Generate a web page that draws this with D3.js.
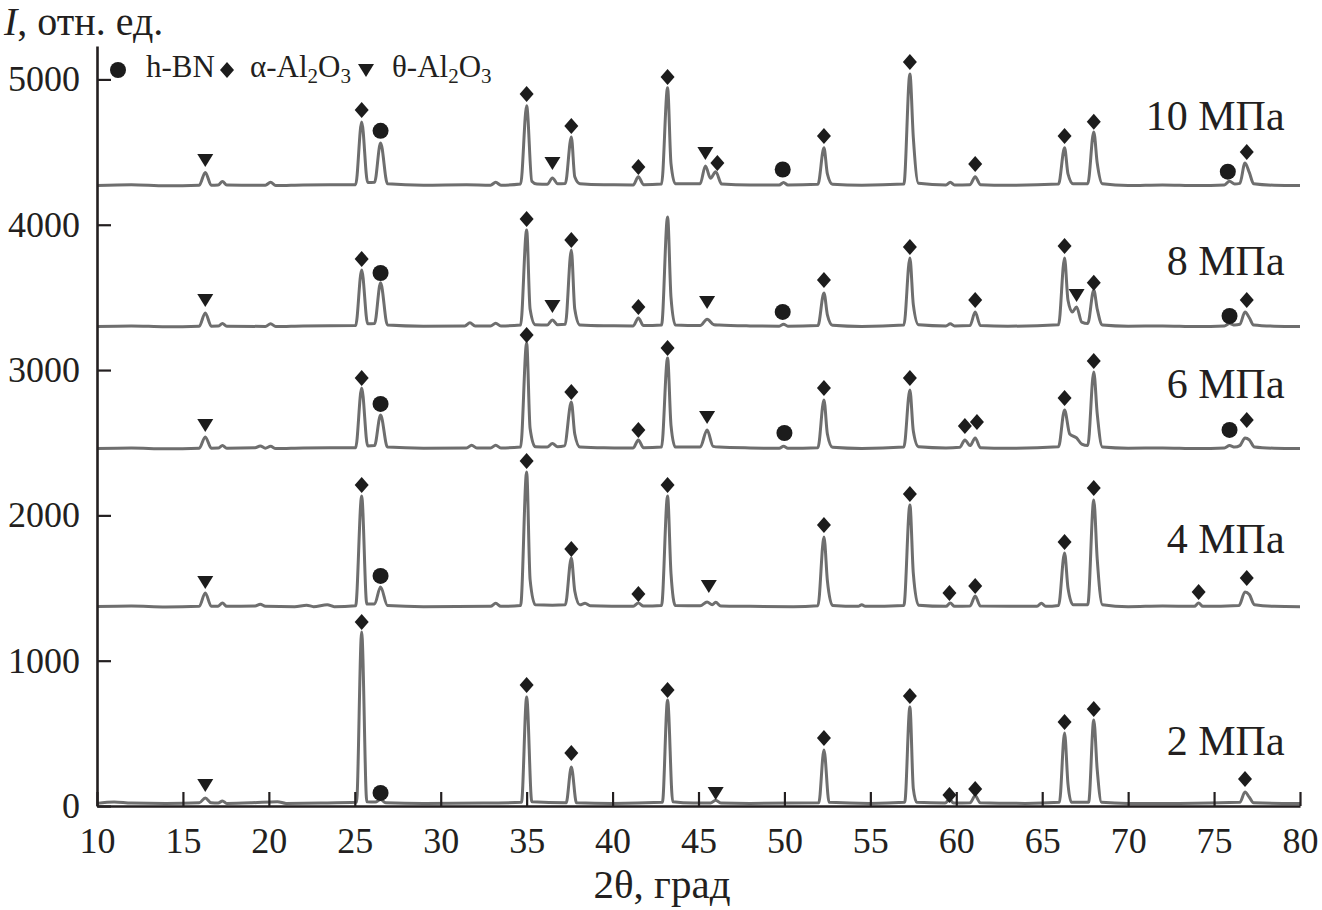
<!DOCTYPE html>
<html><head><meta charset="utf-8">
<script src="https://cdn.jsdelivr.net/npm/d3@7"></script>
<style>
body{margin:0;background:#fff}
svg{display:block}
text{font-family:"Liberation Serif","Times New Roman",serif;fill:#231f20}
</style></head>
<body><svg id="c" width="1322" height="910"></svg>
<script>
// ---------- DATA ----------
const xTicks = [10,15,20,25,30,35,40,45,50,55,60,65,70,75,80];
const yTicks = [0,1000,2000,3000,4000,5000];
const seriesNames = ["2 МПа","4 МПа","6 МПа","8 МПа","10 МПа"];

// [2θ, I] points
const s2 = [[10,18],[11,28],[12,20],[14,18],[15.95,22],[16.3,55],[16.65,22],[17.05,20],[17.3,35],[17.55,18],[19,22],[20.5,30],[21,18],[23,20],[25.1,25],[25.4,1197],[25.7,30],[26.2,28],[26.5,45],[26.8,22],[29,18],[32.5,20],[34.7,25],[35.0,750],[35.3,30],[37.3,22],[37.6,268],[37.9,22],[40,18],[42.9,25],[43.2,730],[43.5,30],[44.7,20],[45.7,20],[46.0,40],[46.3,20],[48,18],[52.0,22],[52.3,385],[52.6,25],[55,18],[57.0,25],[57.3,681],[57.5,120],[57.7,25],[59.35,20],[59.6,45],[59.85,20],[60.8,22],[61.1,70],[61.4,22],[64,18],[66.0,25],[66.3,502],[66.5,150],[66.7,25],[67.7,25],[68.0,592],[68.2,250],[68.45,25],[70,18],[73,18],[76.5,25],[76.8,96],[77.05,60],[77.3,22],[79,18],[80,18]];

const s4 = [[10,1372],[12,1376],[14,1370],[15.95,1374],[16.3,1466],[16.65,1374],[17.05,1375],[17.3,1397],[17.55,1374],[19.2,1376],[19.5,1388],[19.8,1374],[21.5,1372],[22.2,1382],[22.6,1372],[23.4,1385],[23.8,1372],[25.05,1378],[25.4,2133],[25.7,1390],[26.15,1390],[26.5,1507],[26.9,1380],[29,1372],[32.9,1374],[33.2,1395],[33.5,1374],[34.65,1380],[35.0,2299],[35.2,1560],[35.5,1385],[36.5,1382],[37.25,1385],[37.6,1707],[37.8,1480],[38.1,1385],[38.4,1395],[38.7,1378],[41.2,1374],[41.5,1397],[41.8,1376],[42.85,1380],[43.2,2133],[43.4,1600],[43.65,1380],[45.1,1378],[45.5,1404],[45.8,1385],[46.0,1402],[46.3,1376],[48,1374],[50.5,1372],[51.95,1378],[52.3,1851],[52.5,1550],[52.8,1380],[54.3,1374],[54.5,1385],[54.7,1374],[56.95,1380],[57.3,2072],[57.5,1600],[57.8,1382],[59.4,1374],[59.65,1397],[59.9,1374],[60.8,1376],[61.1,1445],[61.4,1376],[64.7,1374],[64.95,1395],[65.2,1374],[65.95,1380],[66.3,1741],[66.5,1500],[66.8,1385],[67.65,1385],[68.0,2106],[68.2,1700],[68.5,1385],[70,1372],[72,1376],[73.85,1374],[74.1,1397],[74.35,1374],[76.45,1380],[76.8,1473],[77.05,1455],[77.35,1385],[78.5,1374],[80,1372]];

const s6 = [[10,2460],[12,2464],[14,2458],[15.95,2462],[16.3,2540],[16.65,2462],[17.05,2463],[17.3,2480],[17.55,2462],[19.2,2465],[19.5,2478],[19.8,2462],[20.1,2475],[20.4,2460],[22,2464],[25.05,2466],[25.4,2877],[25.75,2478],[26.15,2480],[26.5,2691],[26.9,2470],[29,2462],[31.5,2464],[31.8,2482],[32.1,2464],[32.9,2464],[33.2,2482],[33.5,2464],[34.65,2470],[35.0,3187],[35.2,2600],[35.5,2472],[36.2,2470],[36.5,2495],[36.8,2472],[37.2,2478],[37.6,2780],[37.8,2560],[38.1,2470],[39.5,2465],[41.2,2464],[41.5,2519],[41.8,2466],[42.85,2470],[43.2,3083],[43.4,2620],[43.65,2470],[45.1,2470],[45.5,2588],[45.85,2475],[46.2,2470],[48,2464],[49.7,2462],[49.95,2476],[50.2,2462],[51.95,2466],[52.3,2794],[52.5,2560],[52.8,2468],[54.5,2460],[56.95,2470],[57.3,2863],[57.5,2580],[57.8,2472],[59.4,2464],[60.2,2468],[60.5,2519],[60.8,2480],[61.1,2533],[61.4,2466],[63,2462],[65.95,2472],[66.3,2725],[66.6,2560],[67.0,2533],[67.3,2490],[67.65,2480],[68.0,2987],[68.2,2700],[68.5,2470],[70,2462],[72,2464],[74,2460],[75.6,2464],[75.9,2480],[76.2,2470],[76.5,2480],[76.8,2533],[77.05,2520],[77.35,2470],[78.5,2462],[80,2460]];

const s8 = [[10,3300],[12,3304],[14,3298],[15.95,3302],[16.3,3393],[16.65,3302],[17.05,3303],[17.3,3320],[17.55,3302],[19.8,3300],[20.1,3318],[20.4,3300],[22,3304],[25.05,3306],[25.4,3689],[25.75,3318],[26.15,3320],[26.5,3600],[26.9,3310],[29,3302],[31.4,3304],[31.7,3325],[32,3304],[32.9,3304],[33.2,3322],[33.5,3304],[34.65,3310],[35.0,3964],[35.2,3420],[35.5,3312],[36.2,3310],[36.5,3345],[36.8,3312],[37.25,3315],[37.6,3827],[37.8,3420],[38.1,3310],[39.5,3305],[41.2,3304],[41.5,3358],[41.8,3306],[42.85,3310],[43.2,4054],[43.4,3500],[43.65,3310],[45.1,3306],[45.5,3350],[45.9,3312],[46.2,3310],[48,3304],[49.7,3302],[49.95,3316],[50.2,3302],[51.95,3306],[52.3,3531],[52.5,3380],[52.8,3308],[54.5,3300],[56.95,3310],[57.3,3771],[57.5,3450],[57.8,3312],[59.4,3304],[59.65,3318],[59.9,3304],[60.8,3306],[61.1,3400],[61.4,3306],[63,3302],[65.95,3312],[66.3,3771],[66.5,3480],[66.75,3400],[67.0,3434],[67.3,3330],[67.65,3320],[68.0,3551],[68.2,3420],[68.5,3310],[70,3302],[72,3304],[74,3300],[75.6,3304],[75.9,3320],[76.2,3310],[76.5,3315],[76.8,3400],[77.05,3360],[77.3,3310],[78.5,3302],[80,3300]];

const s10 = [[10,4270],[12,4275],[14,4268],[15.95,4272],[16.3,4360],[16.65,4272],[17.05,4274],[17.3,4298],[17.55,4273],[19.8,4272],[20.1,4292],[20.4,4270],[22,4274],[25.05,4276],[25.4,4707],[25.75,4290],[26.15,4292],[26.5,4563],[26.9,4282],[29,4272],[31.5,4275],[32.9,4272],[33.2,4292],[33.5,4272],[34.65,4280],[35.0,4818],[35.3,4300],[35.6,4280],[36.2,4278],[36.5,4322],[36.8,4282],[37.25,4284],[37.6,4604],[37.8,4330],[38.1,4282],[39.5,4275],[41.2,4274],[41.5,4330],[41.8,4276],[42.85,4280],[43.2,4942],[43.4,4420],[43.65,4282],[45.1,4282],[45.4,4405],[45.7,4320],[46.0,4364],[46.35,4280],[48,4274],[49.7,4274],[49.95,4290],[50.2,4274],[51.95,4278],[52.3,4529],[52.5,4350],[52.8,4278],[54.5,4272],[56.95,4280],[57.3,5038],[57.5,4600],[57.8,4285],[59.4,4274],[59.65,4292],[59.9,4274],[60.8,4276],[61.1,4330],[61.4,4276],[63,4272],[65.95,4280],[66.3,4529],[66.5,4350],[66.8,4282],[67.65,4282],[68.0,4639],[68.2,4425],[68.5,4282],[70,4270],[72,4274],[74,4270],[75.6,4274],[75.9,4300],[76.2,4280],[76.5,4285],[76.8,4425],[77.05,4360],[77.3,4282],[78.5,4272],[80,4270]];

// phase markers: [2θ, I, phase]  c = h-BN, d = α-Al2O3, t = θ-Al2O3
const m2 = [[16.3,145,"t"],[25.4,1266,"d"],[26.5,90,"c"],[35.0,833,"d"],[37.6,365,"d"],[43.2,798,"d"],[46.0,89,"t"],[52.3,468,"d"],[57.3,757,"d"],[59.6,76,"d"],[61.1,117,"d"],[66.3,578,"d"],[68.0,668,"d"],[76.8,186,"d"]];
const m4 = [[16.3,1542,"t"],[25.4,2209,"d"],[26.5,1583,"c"],[35.0,2374,"d"],[37.6,1769,"d"],[41.5,1459,"d"],[43.2,2209,"d"],[45.6,1514,"t"],[52.3,1934,"d"],[57.3,2147,"d"],[59.6,1466,"d"],[61.1,1514,"d"],[66.3,1817,"d"],[68.0,2188,"d"],[74.1,1473,"d"],[76.9,1569,"d"]];
const m6 = [[16.3,2622,"t"],[25.4,2946,"d"],[26.5,2767,"c"],[35.0,3242,"d"],[37.6,2849,"d"],[41.5,2588,"d"],[43.2,3152,"d"],[45.5,2677,"t"],[50.0,2567,"c"],[52.3,2877,"d"],[57.3,2946,"d"],[60.5,2615,"d"],[61.2,2643,"d"],[66.3,2808,"d"],[68.0,3063,"d"],[75.9,2588,"c"],[76.9,2657,"d"]];
const m8 = [[16.3,3482,"t"],[25.4,3765,"d"],[26.5,3668,"c"],[35.0,4040,"d"],[36.5,3441,"t"],[37.6,3895,"d"],[41.5,3434,"d"],[45.5,3469,"t"],[49.9,3400,"c"],[52.3,3620,"d"],[57.3,3847,"d"],[61.1,3482,"d"],[66.3,3854,"d"],[67.0,3517,"t"],[68.0,3600,"d"],[75.9,3372,"c"],[76.9,3482,"d"]];
const m10 = [[16.3,4446,"t"],[25.4,4790,"d"],[26.5,4646,"c"],[35.0,4900,"d"],[36.5,4425,"t"],[37.6,4680,"d"],[41.5,4398,"d"],[43.2,5017,"d"],[45.4,4494,"t"],[46.1,4425,"d"],[49.9,4380,"c"],[52.3,4611,"d"],[57.3,5120,"d"],[61.1,4418,"d"],[66.3,4611,"d"],[68.0,4708,"d"],[75.8,4365,"c"],[76.9,4501,"d"]];

const legendItems = [["c","h-BN"],["d","α-Al","2","O","3"],["t","θ-Al","2","O","3"]];

// ---------- LAYOUT ----------
const svg = d3.select("#c");
const x = d3.scaleLinear().domain([10,80]).range([97,1300]);
const y = d3.scaleLinear().domain([0,5230]).range([806,46]);
const FS = 36;

const curves = [s2,s4,s6,s8,s10];
const markers = [m2,m4,m6,m8,m10];
const labelAt = {x:79.1, I:[351,1741,2808,3654,4652]};

const line = d3.line().x(d=>x(d[0])).y(d=>y(d[1])).curve(d3.curveMonotoneX);

const shapes = {
  d: "M0,-8L7,0L0,8L-7,0Z",
  t: "M-8,-6L8,-6L0,7Z",
  c: "M8,0A8,8 0 1,1 -8,0A8,8 0 1,1 8,0Z"
};

// curves
svg.append("g").selectAll("path").data(curves).join("path")
  .attr("d", line)
  .attr("fill","none")
  .attr("stroke","#6e6e6e")
  .attr("stroke-width",3)
  .attr("stroke-linejoin","round");

// markers
markers.forEach(ms=>{
  svg.append("g").selectAll("path").data(ms).join("path")
    .attr("d", d=>shapes[d[2]])
    .attr("transform", d=>`translate(${x(d[0])},${y(d[1])})`)
    .attr("fill","#1c1c1c");
});

// axes
const gx = svg.append("g").attr("transform","translate(0,806)")
  .call(d3.axisBottom(x).tickValues(xTicks).tickSizeInner(-14).tickSizeOuter(0).tickPadding(21).tickFormat(d3.format("d")));
const gy = svg.append("g").attr("transform","translate(97,0)")
  .call(d3.axisLeft(y).tickValues(yTicks).tickSizeInner(-14).tickSizeOuter(0).tickPadding(17).tickFormat(d3.format("d")));
[gx,gy].forEach(g=>{
  g.select(".domain").attr("stroke","#231f20").attr("stroke-width",2.6);
  g.selectAll(".tick line").attr("stroke","#231f20").attr("stroke-width",2.2);
  g.selectAll(".tick text").attr("font-size",FS).attr("font-family","Liberation Serif").attr("fill","#231f20");
});

// series labels
svg.append("g").selectAll("text").data(seriesNames).join("text")
  .attr("x", x(labelAt.x))
  .attr("y", (d,i)=>y(labelAt.I[i]))
  .attr("text-anchor","end")
  .attr("font-size",42)
  .text(d=>d);

// axis titles
const yt = svg.append("text").attr("x",4).attr("y",35).attr("font-size",40);
yt.append("tspan").attr("font-style","italic").text("I");
yt.append("tspan").text(", отн. ед.");
svg.append("text").attr("x",662).attr("y",898).attr("text-anchor","middle").attr("font-size",41).text("2θ, град");

// legend
const lgX = [118, 227, 366];
const lgTX = [146, 250, 392];
legendItems.forEach((it,i)=>{
  svg.append("path").attr("d",shapes[it[0]]).attr("transform",`translate(${lgX[i]},70)`).attr("fill","#1c1c1c");
  const t = svg.append("text").attr("x",lgTX[i]).attr("y",77).attr("font-size",31);
  t.append("tspan").text(it[1]);
  if(it.length>2){
    t.append("tspan").attr("font-size",21).attr("dy",6).text(it[2]);
    t.append("tspan").attr("dy",-6).text(it[3]);
    t.append("tspan").attr("font-size",21).attr("dy",6).text(it[4]);
  }
});
</script></body></html>
